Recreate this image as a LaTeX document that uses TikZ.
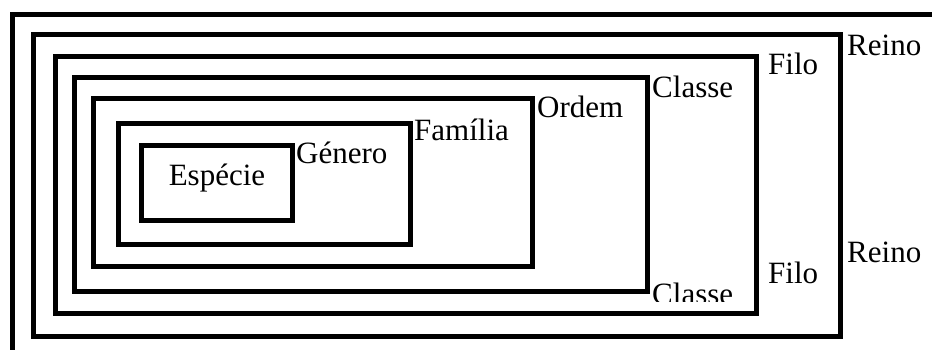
\documentclass[tikz,border=0pt]{standalone}
\usepackage{fontspec}
\setmainfont{Liberation Serif}
\usetikzlibrary{positioning}

\tikzset{
  caixa/.style={draw, line width=5pt, rectangle, inner sep=0pt},
  rotulo/.style={inner sep=0pt, anchor=base west, font=\fontsize{31}{37}\selectfont}
}

\begin{document}
\begin{tikzpicture}[x=1pt, y=-1pt]

\useasboundingbox (0,0) rectangle (932,349);
\clip (0,0) rectangle (932,349);

%Outer frame.
\draw[line width=5pt] (12.5,14) rectangle (1000,400);

%Declare boxes.
\node[caixa, minimum width=807pt, minimum height=302pt] (reino) at (436.5,185) {};
\node[caixa, minimum width=701pt, minimum height=257pt] (filo) at (405.5,184.5) {};
\node[caixa, minimum width=573pt, minimum height=214pt] (classe) at (360.5,184) {};
\node[caixa, minimum width=439pt, minimum height=168pt] (ordem) at (312.5,182) {};
\node[caixa, minimum width=292pt, minimum height=121pt] (familia) at (264,183.5) {};
\node[caixa, minimum width=151pt, minimum height=75pt] (especie) at (216.5,182.5) {};

%Setup labels.
\node[rotulo, anchor=base] (tespecie) at (217,185) {Espécie};
\node[rotulo] (tgenero) at (296,163) {Género};
\node[rotulo] (tfamilia) at (414,140) {Família};
\node[rotulo] (tordem) at (537,117) {Ordem};
\node[rotulo] (tclasse1) at (652,97) {Classe};
\node[rotulo] (tfilo1) at (768,74) {Filo};
\node[rotulo] (treino1) at (847,55) {Reino};
\node[rotulo] (treino2) at (847,262) {Reino};
\node[rotulo] (tfilo2) at (768,283) {Filo};
\begin{scope}
  \clip (600,250) rectangle (760,301);
  \node[rotulo] (tclasse2) at (652,304) {Classe};
\end{scope}

\end{tikzpicture}
\end{document}
